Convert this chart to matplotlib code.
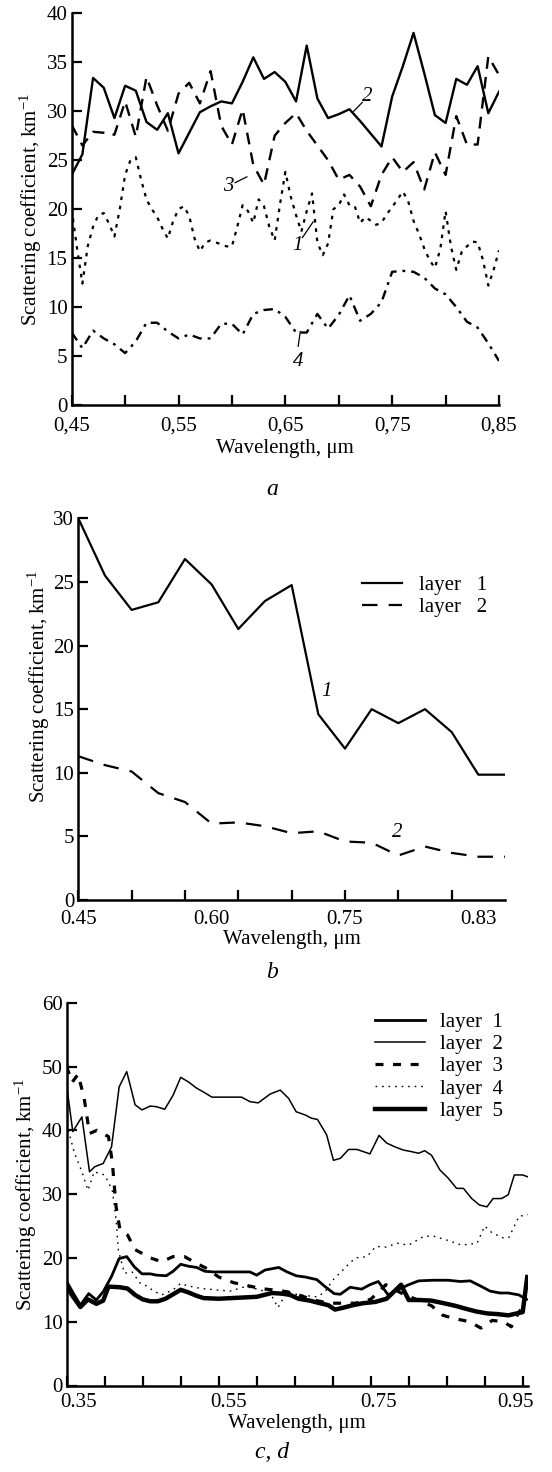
import numpy as np
import matplotlib
matplotlib.use("Agg")
import matplotlib.pyplot as plt

plt.rcParams['font.family'] = ['Liberation Serif', 'DejaVu Serif']
plt.rcParams['mathtext.fontset'] = 'custom'
plt.rcParams['mathtext.rm'] = 'Liberation Serif'
plt.rcParams['mathtext.it'] = 'Liberation Serif:italic'

# ---------------- Panel a ----------------
wl_a = np.round(np.arange(0.45, 0.8501, 0.01), 3)
wl_a1 = np.round(np.arange(0.45, 0.8501, 0.005), 4)
curve1_a = [20.0, 16.0, 12.4, 16.2, 18.2, 19.4, 19.6, 18.5, 17.2, 20.0,
            23.5, 25.0, 25.3, 23.0, 21.0, 20.0, 19.2, 18.0, 17.0, 18.8,
            20.0, 20.3, 19.3, 17.0, 15.7, 16.6, 16.8, 16.6, 16.4, 16.2,
            16.2, 18.2, 20.4, 19.8, 18.6, 21.0, 20.3, 18.2, 16.8, 20.5,
            23.8, 21.3, 19.4, 17.7, 19.8, 21.6, 16.6, 15.3, 16.5, 20.0,
            20.4, 21.5, 20.4, 20.3, 18.6, 19.2, 18.8, 18.4, 18.6, 19.5,
            20.2, 21.0, 21.8, 20.8, 18.8, 17.5, 16.0, 14.8, 14.0, 15.9,
            19.8, 16.2, 13.8, 15.6, 16.2, 16.7, 16.6, 14.8, 12.2, 13.8,
            15.8]
curve2_a = [23.5, 25.6, 33.4, 32.4, 29.3, 32.6, 32.1, 28.9, 28.1, 29.8,
            25.7, 27.8, 29.9, 30.5, 31.0, 30.8, 33.0, 35.5, 33.3, 34.0,
            33.0, 31.0, 36.7, 31.3, 29.3, 29.7, 30.2, 29.0, 27.7, 26.4,
            31.5, 34.6, 38.0, 33.9, 29.6, 28.8, 33.3, 32.7, 34.6, 29.8,
            32.0]
curve3_a = [28.6, 26.5, 27.9, 27.8, 27.6, 31.0, 27.4, 33.5, 30.6, 28.0,
            31.8, 32.9, 30.8, 34.1, 28.5, 26.6, 30.2, 24.5, 22.5, 27.5,
            28.8, 29.8, 28.0, 26.5, 25.0, 23.0, 23.5, 22.3, 20.3, 23.5,
            25.3, 23.8, 24.8, 22.0, 25.8, 23.5, 29.5, 26.6, 26.6, 35.6,
            33.7]
curve4_a = [7.4, 5.8, 7.6, 6.8, 6.2, 5.3, 6.5, 8.4, 8.4, 7.5,
            6.8, 7.2, 6.8, 6.8, 8.3, 8.3, 7.2, 9.3, 9.7, 9.8,
            9.0, 7.4, 7.4, 9.3, 7.8, 9.2, 11.2, 8.6, 9.3, 10.5,
            13.6, 13.7, 13.6, 13.0, 11.9, 11.3, 10.0, 8.5, 7.9, 6.3,
            4.5]
ticks_a = [0.45, 0.50, 0.55, 0.60, 0.65, 0.70, 0.75, 0.80, 0.85]
ticklabels_a = ['0,45', '', '0,55', '', '0,65', '', '0,75', '', '0,85']

# ---------------- Panel b ----------------
wl_b = np.round(np.arange(0.45, 0.8501, 0.025), 4)
layer1_b = [30.0, 25.5, 22.8, 23.4, 26.8, 24.8, 21.3, 23.5, 24.75, 14.6,
            11.9, 15.0, 13.9, 15.0, 13.2, 9.85, 9.85]
layer2_b = [11.3, 10.6, 10.1, 8.4, 7.7, 6.0, 6.1, 5.8, 5.25, 5.4,
            4.6, 4.5, 3.5, 4.2, 3.7, 3.4, 3.4]
ticks_b = [0.45, 0.50, 0.55, 0.60, 0.65, 0.70, 0.75, 0.80]
ticklabels_b = ['0.45', '0.60', '0.75', '0.83']
ticklabel_pos_b = [0.45, 0.575, 0.70, 0.825]

# ---------------- Panel c, d ----------------
l1_x = [0.350, 0.359, 0.368, 0.379, 0.389, 0.398, 0.409, 0.419, 0.429, 0.439,
        0.449, 0.460, 0.468, 0.481, 0.490, 0.500, 0.510, 0.521, 0.532, 0.543,
        0.591, 0.600, 0.611, 0.629, 0.640, 0.652, 0.664, 0.679, 0.690, 0.702,
        0.710, 0.723, 0.738, 0.749, 0.760, 0.773, 0.786, 0.800, 0.813, 0.832,
        0.852, 0.868, 0.881, 0.896, 0.907, 0.920, 0.931, 0.945, 0.955]
l1_y = [16.3, 14.4, 12.6, 14.4, 13.4, 14.7, 17.1, 19.9, 20.2, 18.6,
        17.5, 17.5, 17.3, 17.2, 17.9, 19.0, 18.7, 18.5, 17.9, 17.8,
        17.8, 17.3, 18.1, 18.5, 17.8, 17.2, 17.0, 16.6, 15.5, 14.4,
        14.3, 15.4, 15.1, 15.8, 16.3, 14.2, 15.0, 15.8, 16.4, 16.5,
        16.5, 16.3, 16.4, 15.5, 14.8, 14.5, 14.5, 14.2, 13.5]
l2_x = [0.350, 0.358, 0.370, 0.380, 0.387, 0.398, 0.409, 0.419, 0.429, 0.440,
        0.449, 0.460, 0.468, 0.479, 0.490, 0.500, 0.510, 0.521, 0.530, 0.541,
        0.550, 0.580, 0.591, 0.602, 0.618, 0.631, 0.642, 0.652, 0.664, 0.672,
        0.680, 0.692, 0.701, 0.710, 0.721, 0.732, 0.749, 0.761, 0.771, 0.782,
        0.793, 0.802, 0.813, 0.821, 0.830, 0.841, 0.852, 0.863, 0.872, 0.883,
        0.893, 0.903, 0.911, 0.922, 0.931, 0.939, 0.950, 0.957]
l2_y = [47.0, 39.8, 42.1, 33.5, 34.3, 34.8, 37.4, 46.8, 49.2, 44.0,
        43.2, 43.8, 43.7, 43.3, 45.5, 48.3, 47.6, 46.6, 46.0, 45.2,
        45.2, 45.2, 44.5, 44.3, 45.7, 46.3, 45.0, 42.9, 42.4, 41.9,
        41.7, 39.3, 35.3, 35.6, 37.0, 37.0, 36.3, 39.2, 38.0, 37.4,
        36.9, 36.7, 36.4, 36.8, 36.1, 33.8, 32.5, 30.9, 30.9, 29.3,
        28.3, 28.0, 29.3, 29.3, 29.9, 33.0, 33.0, 32.7]
l3_x = [0.350, 0.357, 0.365, 0.373, 0.380, 0.390, 0.405, 0.410, 0.415, 0.420,
        0.430, 0.440, 0.460, 0.475, 0.490, 0.505, 0.520, 0.535, 0.550, 0.570,
        0.590, 0.605, 0.620, 0.640, 0.655, 0.675, 0.695, 0.710, 0.730, 0.750,
        0.770, 0.790, 0.810, 0.830, 0.845, 0.860, 0.880, 0.895, 0.910, 0.925,
        0.935, 0.945, 0.955]
l3_y = [50.0, 47.5, 48.8, 45.0, 39.5, 40.0, 39.0, 35.0, 28.0, 24.5,
        23.6, 21.3, 20.0, 19.4, 20.2, 20.2, 19.2, 18.3, 17.0, 16.1,
        15.6, 15.2, 15.0, 14.7, 14.2, 13.4, 12.9, 12.9, 12.9, 13.5,
        15.8, 14.5, 13.5, 12.5, 11.0, 10.5, 10.0, 9.0, 10.2, 10.0,
        9.2, 11.5, 13.0]
l4_x = [0.350, 0.360, 0.370, 0.378, 0.386, 0.400, 0.410, 0.415, 0.418, 0.426,
        0.436, 0.447, 0.455, 0.466, 0.475, 0.490, 0.500, 0.510, 0.527, 0.545,
        0.565, 0.585, 0.605, 0.620, 0.628, 0.640, 0.655, 0.680, 0.690, 0.700,
        0.720, 0.730, 0.745, 0.757, 0.770, 0.785, 0.800, 0.820, 0.833, 0.850,
        0.870, 0.890, 0.900, 0.910, 0.925, 0.932, 0.945, 0.957]
l4_y = [41.0, 36.5, 33.5, 30.6, 33.5, 33.0, 30.6, 26.0, 21.2, 17.6,
        17.8, 16.0, 15.6, 14.7, 14.2, 15.0, 16.0, 15.6, 15.2, 15.0,
        14.8, 15.5, 15.0, 14.0, 12.2, 14.7, 14.2, 13.9, 14.7, 16.5,
        18.9, 20.0, 20.2, 21.8, 21.7, 22.3, 22.0, 23.4, 23.4, 22.8,
        22.0, 22.3, 25.0, 23.9, 23.1, 23.2, 26.5, 26.8]
l5_x = [0.350, 0.358, 0.368, 0.378, 0.389, 0.398, 0.405, 0.420, 0.430, 0.440,
        0.450, 0.460, 0.470, 0.480, 0.490, 0.500, 0.510, 0.520, 0.530, 0.550,
        0.600, 0.620, 0.633, 0.644, 0.655, 0.670, 0.683, 0.694, 0.703, 0.714,
        0.727, 0.740, 0.756, 0.771, 0.790, 0.800, 0.815, 0.830, 0.846, 0.861,
        0.876, 0.889, 0.903, 0.916, 0.931, 0.950, 0.956]
l5_y = [15.5, 14.0, 12.3, 13.5, 12.8, 13.3, 15.5, 15.4, 15.2, 14.2,
        13.5, 13.2, 13.2, 13.6, 14.3, 15.0, 14.6, 14.1, 13.7, 13.6,
        13.9, 14.5, 14.4, 14.2, 13.6, 13.3, 12.9, 12.6, 11.9, 12.2,
        12.6, 12.9, 13.1, 13.6, 15.8, 13.4, 13.4, 13.3, 12.9, 12.5,
        12.0, 11.6, 11.3, 11.2, 11.0, 11.5, 17.0]
ticks_c = [0.35, 0.40, 0.45, 0.50, 0.55, 0.60, 0.65, 0.70, 0.75, 0.80, 0.85, 0.90, 0.95]
ticklabels_c = ['0.35', '0.55', '0.75', '0.95']
ticklabel_pos_c = [0.366, 0.563, 0.761, 0.941]

W, H = 552, 1472
fig = plt.figure(figsize=(W / 100, H / 100), dpi=100)


def px_axes(left, right, top, bottom):
    return fig.add_axes([left / W, 1 - bottom / H, (right - left) / W, (bottom - top) / H])


FS = 15
ylabel_txt = 'Scattering coefficient, km$^{-1}$'
xlabel_txt = 'Wavelength, \u03bcm'


def style(ax, xpad):
    for s in ['top', 'right']:
        ax.spines[s].set_visible(False)
    for s in ['left', 'bottom']:
        ax.spines[s].set_linewidth(1.8)
    ax.tick_params(direction='in', length=7, width=1.6, labelsize=FS)
    ax.tick_params(axis='y', pad=3)
    ax.tick_params(axis='x', pad=xpad)
    ax.tick_params(axis='x', which='minor', length=0, labelsize=FS, pad=xpad)


# Panel a
axa = px_axes(71.7, 499, 13.3, 405)
axa.plot(wl_a1, curve1_a, color='black', lw=1.6, dashes=(1.6, 2.6))
axa.plot(wl_a, curve2_a, color='black', lw=1.7)
axa.plot(wl_a, curve3_a, color='black', lw=1.7, dashes=(5, 3.5))
axa.plot(wl_a, curve4_a, color='black', lw=1.7, dashes=(4, 2.5, 1.2, 2.5))
axa.set_xlim(0.45, 0.85)
axa.set_ylim(0, 40)
axa.set_xticks(ticks_a)
axa.set_xticklabels(ticklabels_a)
axa.set_yticks(range(0, 41, 5))
style(axa, 8)
axa.set_xlabel(xlabel_txt, fontsize=FS)
axa.xaxis.set_label_coords(0.5, -0.088)
axa.set_ylabel(ylabel_txt, fontsize=FS)
axa.yaxis.set_label_coords(-0.064, 0.5)
for txt, (tx, ty), (x0, y0, x1, y1) in [
        ('2', (0.727, 31.5), (0.714, 30.0, 0.722, 30.9)),
        ('3', (0.597, 22.3), (0.603, 22.7, 0.614, 23.3)),
        ('1', (0.661, 16.3), (0.666, 17.1, 0.676, 18.7)),
        ('4', (0.662, 4.4), (0.662, 6.0, 0.664, 7.5))]:
    axa.text(tx, ty, txt, fontsize=FS, style='italic', ha='center', va='center')
    axa.plot([x0, x1], [y0, y1], color='black', lw=0.9)
fig.text(272 / W, 1 - 490 / H, 'a', fontsize=17, style='italic', ha='center', va='center')

# Panel b
axb = px_axes(78.3, 505, 518.3, 900)
axb.plot(wl_b, layer1_b, color='black', lw=1.6, label='layer   1')
axb.plot(wl_b, layer2_b, color='black', lw=1.6, dashes=(7, 5), label='layer   2')
axb.set_xlim(0.45, 0.85)
axb.set_ylim(0, 30)
axb.xaxis.remove_overlapping_locs = False
axb.set_xticks(ticks_b)
axb.set_xticklabels([])
axb.set_xticks(ticklabel_pos_b, minor=True)
axb.set_xticklabels(ticklabels_b, minor=True)
axb.set_yticks(range(0, 31, 5))
style(axb, 7)
axb.set_xlabel(xlabel_txt, fontsize=FS)
axb.xaxis.set_label_coords(0.5, -0.078)
axb.set_ylabel(ylabel_txt, fontsize=FS)
axb.yaxis.set_label_coords(-0.062, 0.56)
axb.legend(loc='upper left', bbox_to_anchor=(0.664, 0.85), frameon=False, fontsize=FS,
           handlelength=1.92, handletextpad=0.83, labelspacing=0.13,
           borderpad=0, borderaxespad=0)
axb.text(0.683, 16.4, '1', fontsize=FS, style='italic', ha='center', va='center')
axb.text(0.749, 5.3, '2', fontsize=FS, style='italic', ha='center', va='center')
fig.text(272 / W, 1 - 973 / H, 'b', fontsize=17, style='italic', ha='center', va='center')

# Panel c, d
axc = px_axes(66.7, 528, 1002.7, 1385.5)
axc.plot(l1_x, l1_y, color='black', lw=2.0, label='layer  1')
axc.plot(l2_x, l2_y, color='black', lw=1.1, label='layer  2')
axc.plot(l3_x, l3_y, color='black', lw=2.3, dashes=(2.5, 3.0), label='layer  3')
axc.plot(l4_x, l4_y, color='black', lw=1.0, dashes=(1.2, 3.5), label='layer  4')
axc.plot(l5_x, l5_y, color='black', lw=3.2, label='layer  5')
axc.set_xlim(0.35, 0.957)
axc.set_ylim(0, 60)
axc.xaxis.remove_overlapping_locs = False
axc.set_xticks(ticks_c)
axc.set_xticklabels([])
axc.set_xticks(ticklabel_pos_c, minor=True)
axc.set_xticklabels(ticklabels_c, minor=True)
axc.set_yticks(range(0, 61, 10))
style(axc, 5.5)
axc.set_xlabel(xlabel_txt, fontsize=FS)
axc.xaxis.set_label_coords(0.5, -0.075)
axc.set_ylabel(ylabel_txt, fontsize=FS)
axc.yaxis.set_label_coords(-0.06, 0.5)
axc.legend(loc='upper left', bbox_to_anchor=(0.668, 0.975), frameon=False, fontsize=FS,
           handlelength=2.4, handletextpad=0.72, labelspacing=0.13,
           borderpad=0, borderaxespad=0)
fig.text(272 / W, 1 - 1452 / H, 'c, d', fontsize=17, style='italic', ha='center', va='center')

fig.savefig('out.png', dpi=100)
